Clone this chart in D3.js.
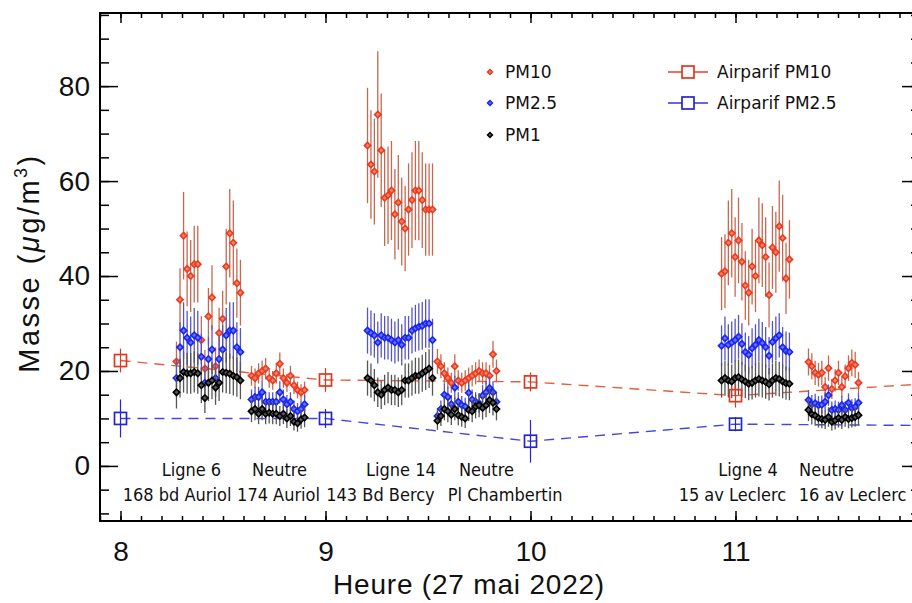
<!DOCTYPE html>
<html>
<head>
<meta charset="utf-8">
<script src="https://cdn.jsdelivr.net/npm/d3@7"></script>
<style>
  body { margin: 0; background: #fff; }
  svg { display: block; }
</style>
</head>
<body>
<script>
// sampling sites (two label lines each) and first / last sample time, decimal hours
const siteLine1 = ['Ligne 6', 'Neutre', 'Ligne 14', 'Neutre', 'Ligne 4', 'Neutre'];
const siteLine2 = ['168 bd Auriol', '174 Auriol', '143 Bd Bercy', 'Pl Chambertin', '15 av Leclerc', '16 av Leclerc'];
const siteStart = [8.273, 8.639, 9.205, 9.546, 10.932, 11.356];
const siteEnd   = [8.585, 8.898, 9.522, 9.834, 11.263, 11.600];

// measured mass concentrations (µg/m3), one row per site, one value per minute
const pm10 = [
  [22, 35, 48.5, 41.5, 40, 42.5, 42.5, 26.5, 20.5, 31.5, 35.5, 21, 28, 31, 42, 49, 47, 38.5, 36.5],
  [19, 18.5, 19.5, 20, 20.5, 18.5, 18, 19.5, 21.5, 18.5, 17.5, 19, 17, 16, 15.5, 16],
  [67.5, 63.5, 62, 74, 66.5, 56.5, 57, 58, 53, 55.5, 51.5, 50, 54, 56, 58, 58, 56, 54, 54, 54],
  [22, 21, 19.5, 18.5, 17.5, 21, 18, 17.5, 18, 18.5, 19, 19.5, 20, 19.5, 19.5, 19, 23.5, 20],
  [40.5, 41, 47, 49, 44, 47.5, 43, 38, 36.5, 42, 40, 47.5, 46.5, 44, 36, 46, 45, 50.5, 48, 39.5, 43.5],
  [21.9, 21, 19.6, 19.2, 19.6, 16.6, 20.6, 16.2, 18, 19.6, 16.6, 18.9, 20.6, 21.7, 21.3, 17.5]
];
const pm25 = [
  [18.5, 25, 28.5, 27, 26, 27.5, 27, 23, 17.5, 22.5, 24.5, 18.5, 22.5, 24.5, 27.5, 28.5, 28.5, 25, 24],
  [14, 14.5, 14.5, 15.5, 13.5, 13.5, 13.5, 13.5, 15.5, 14, 13, 13.5, 12, 11.5, 12, 13],
  [28.5, 28, 27.5, 26, 27.5, 27, 27, 26.5, 26, 26.5, 25.5, 27, 27, 28.5, 29, 29.3, 29.5, 30, 30, 26.5],
  [10.5, 12, 15, 14.5, 13, 16.5, 13.5, 12.8, 12.5, 15.4, 14, 13.5, 13.2, 14.8, 15.5, 16.4, 15.5, 13.5],
  [25.3, 26.9, 25.5, 26, 26.5, 27.2, 25.7, 24, 23.4, 24.8, 25.5, 26.5, 25.9, 25, 23.2, 26.1, 26.9, 27.5, 25, 24.2, 24],
  [13.9, 13, 13.2, 12.8, 12.9, 13.5, 14.9, 11.8, 12, 11.8, 12.8, 11.8, 13.3, 12.2, 12.4, 13.3]
];
const pm1 = [
  [15.5, 18.5, 19.8, 19.5, 19.5, 19.8, 19.5, 17, 14.3, 17.5, 18, 16.5, 17.5, 19.8, 19.6, 19.4, 19, 18.7, 18],
  [11.5, 12, 11, 12, 11, 11.2, 11, 11, 10.5, 11, 10, 10.5, 9.3, 9, 9.8, 10.2],
  [18.5, 18, 17, 15.5, 15, 16, 16.5, 16, 16, 15.5, 16, 18, 18, 18.5, 19, 19, 19.5, 20, 20.5, 18.5],
  [9.5, 10.5, 12, 11.5, 10.8, 12, 10.7, 10.3, 10, 11.8, 11.5, 12.5, 12.8, 12.2, 12.8, 13.9, 13.3, 12],
  [18, 18.5, 18, 17.8, 18.5, 18.7, 18.2, 17.8, 17.3, 17.5, 18, 18.3, 18, 17.7, 17.2, 18, 18.5, 18.3, 17.8, 17.4, 17.3],
  [11.8, 10.9, 10.6, 10.1, 9.9, 9.7, 10.3, 9.3, 9.6, 10.1, 9.7, 10.3, 9.9, 10.1, 10.3, 10.7]
];
// relative size of the error bars, per site
const relErr10 = [0.19, 0.11, 0.18, 0.12, 0.19, 0.13];
const relErr25 = [0.21, 0.15, 0.17, 0.15, 0.17, 0.15];
const relErr1  = [0.22, 0.2, 0.2, 0.2, 0.2, 0.2];

// Airparif hourly station values
const airHours = [8, 9, 10, 11, 12];
const airPM10 = [22.2, 18.1, 17.7, 14.8, 17.5];
const airPM10Err = [2.5, 2.5, 2, 2.5, 2.5];
const airPM25 = [10, 10, 5.2, 8.8, 8.5];
const airPM25Err = [4, 2, 4.5, 1.5, 2];

const hourTicks = [8, 9, 10, 11];
const massTicks = [0, 20, 40, 60, 80];

// label anchors (hours), layout only
const line1At = [8.346, 8.776, 9.368, 9.785, 11.061, 11.444];
const line2At = [8.276, 8.771, 9.268, 9.876, 10.985, 11.571];

const W = 912, H = 603;
const plotL = 100, plotR = 920, plotT = 13, plotB = 521;
const font = '"DejaVu Sans", sans-serif';
const axisFont = '"Liberation Sans", Arial, sans-serif';

const x = d3.scaleLinear().domain([7.9, 11.9]).range([plotL, plotR]);
const y = d3.scaleLinear().domain([-11.6, 95.4]).range([plotB, plotT]);

const svg = d3.select('body').append('svg')
  .attr('width', W).attr('height', H)
  .attr('font-family', font);

svg.append('rect').attr('width', W).attr('height', H).attr('fill', '#fff');

svg.append('clipPath').attr('id', 'clip')
  .append('rect')
  .attr('x', plotL).attr('y', plotT)
  .attr('width', plotR - plotL).attr('height', plotB - plotT);

const plot = svg.append('g').attr('clip-path', 'url(#clip)');

// Airparif dashed lines
const airSeries = [
  {values: airPM10, err: airPM10Err, color: '#e0371f', dash: '#e2603e'},
  {values: airPM25, err: airPM25Err, color: '#2525cf', dash: '#4848d6'}
];

airSeries.forEach((s) => {
  const line = d3.line()
    .x((d, i) => x(airHours[i]))
    .y((d) => y(d));
  plot.append('path')
    .datum(s.values)
    .attr('fill', 'none')
    .attr('stroke', s.dash)
    .attr('stroke-width', 1.4)
    .attr('stroke-dasharray', '10,7')
    .attr('d', line);
});

// measured series
const species = [
  {name: 'PM10', values: pm10, rel: relErr10, mark: '#ec3a1e', fill: '#f2806a', bar: '#c6684f'},
  {name: 'PM2.5', values: pm25, rel: relErr25, mark: '#1a24f0', fill: '#6470ff', bar: '#5656c0'},
  {name: 'PM1', values: pm1, rel: relErr1, mark: '#000', fill: '#555', bar: '#555'}
];

const diamond = d3.symbol(d3.symbolSquare, 20);

species.forEach((s) => {
  const pts = [];
  s.values.forEach((row, i) => {
    const step = (siteEnd[i] - siteStart[i]) / (row.length - 1);
    row.forEach((v, k) => pts.push({t: siteStart[i] + k * step, v: v, e: v * s.rel[i]}));
  });

  plot.append('g')
    .attr('stroke', s.bar)
    .attr('stroke-width', 1.3)
    .selectAll('line')
    .data(pts)
    .join('line')
    .attr('x1', (d) => x(d.t)).attr('x2', (d) => x(d.t))
    .attr('y1', (d) => y(d.v - d.e)).attr('y2', (d) => y(d.v + d.e));

  plot.append('g')
    .selectAll('path')
    .data(pts)
    .join('path')
    .attr('d', diamond)
    .attr('transform', (d) => `translate(${x(d.t)},${y(d.v)}) rotate(45)`)
    .attr('fill', s.fill)
    .attr('stroke', s.mark)
    .attr('stroke-width', 1.6);
});

// Airparif squares and error bars on top
airSeries.forEach((s) => {
  const g = plot.append('g').attr('stroke', s.color).attr('fill', 'none');
  g.selectAll('line')
    .data(s.values)
    .join('line')
    .attr('stroke-width', 1.2)
    .attr('x1', (d, i) => x(airHours[i])).attr('x2', (d, i) => x(airHours[i]))
    .attr('y1', (d, i) => y(d - s.err[i])).attr('y2', (d, i) => y(d + s.err[i]));
  g.selectAll('rect')
    .data(s.values)
    .join('rect')
    .attr('stroke-width', 1.7)
    .attr('x', (d, i) => x(airHours[i]) - 6)
    .attr('y', (d) => y(d) - 6)
    .attr('width', 12).attr('height', 12);
});

// axes, IDL style: ticks inside on all four sides
function styleAxis(g) {
  g.select('.domain').remove();
  g.selectAll('.tick line').attr('stroke', '#000').attr('stroke-width', 1.5);
  g.selectAll('.tick text')
    .attr('font-family', axisFont)
    .attr('font-size', 28)
    .attr('fill', '#111');
}

const minorHours = d3.range(79, 120).map((d) => d / 10);
const minorMass = d3.range(-10, 96, 5);

svg.append('g').attr('transform', `translate(0,${plotB})`)
  .call(d3.axisBottom(x).tickValues(minorHours).tickSize(-5).tickFormat(''))
  .call(styleAxis);
svg.append('g').attr('transform', `translate(0,${plotB})`)
  .call(d3.axisBottom(x).tickValues(hourTicks).tickSize(-10).tickPadding(20).tickFormat(d3.format('d')))
  .call(styleAxis);
svg.append('g').attr('transform', `translate(0,${plotT})`)
  .call(d3.axisTop(x).tickValues(minorHours).tickSize(-5).tickFormat(''))
  .call(styleAxis);
svg.append('g').attr('transform', `translate(0,${plotT})`)
  .call(d3.axisTop(x).tickValues(hourTicks).tickSize(-10).tickFormat(''))
  .call(styleAxis);

svg.append('g').attr('transform', `translate(${plotL},0)`)
  .call(d3.axisLeft(y).tickValues(minorMass).tickSize(-9).tickFormat(''))
  .call(styleAxis);
svg.append('g').attr('transform', `translate(${plotL},0)`)
  .call(d3.axisLeft(y).tickValues(massTicks).tickSize(-18).tickPadding(10).tickFormat(d3.format('d')))
  .call(styleAxis);
svg.append('g').attr('transform', `translate(${plotR},0)`)
  .call(d3.axisRight(y).tickValues(minorMass).tickSize(-9).tickFormat(''))
  .call(styleAxis);
svg.append('g').attr('transform', `translate(${plotR},0)`)
  .call(d3.axisRight(y).tickValues(massTicks).tickSize(-18).tickFormat(''))
  .call(styleAxis);

svg.append('rect')
  .attr('x', plotL).attr('y', plotT)
  .attr('width', plotR - plotL).attr('height', plotB - plotT)
  .attr('fill', 'none')
  .attr('stroke', '#000')
  .attr('stroke-width', 2);

// site labels
const labelFont = '"DejaVu Sans Condensed", "DejaVu Sans", sans-serif';
const labels = svg.append('g')
  .attr('font-family', labelFont)
  .attr('font-stretch', 'condensed')
  .attr('font-size', 18)
  .attr('fill', '#111')
  .attr('text-anchor', 'middle');
labels.selectAll('text.l1')
  .data(siteLine1)
  .join('text')
  .attr('class', 'l1')
  .attr('x', (d, i) => x(line1At[i]))
  .attr('y', 476)
  .text((d) => d);
labels.selectAll('text.l2')
  .data(siteLine2)
  .join('text')
  .attr('class', 'l2')
  .attr('x', (d, i) => x(line2At[i]))
  .attr('y', 501)
  .text((d) => d);

// axis titles
svg.append('text')
  .attr('x', 469)
  .attr('y', 594)
  .attr('text-anchor', 'middle')
  .attr('font-family', axisFont)
  .attr('font-size', 28)
  .attr('letter-spacing', 0.8)
  .attr('fill', '#111')
  .text('Heure (27 mai 2022)');

const yt = svg.append('text')
  .attr('transform', 'translate(39,263) rotate(-90)')
  .attr('text-anchor', 'middle')
  .attr('font-family', axisFont)
  .attr('font-size', 29)
  .attr('letter-spacing', 2.5)
  .attr('fill', '#111');
yt.append('tspan').text('Masse (');
yt.append('tspan').attr('font-style', 'italic').text('μ');
yt.append('tspan').text('g/m');
yt.append('tspan').attr('font-size', 18).attr('dy', -12).text('3');
yt.append('tspan').attr('dy', 12).text(')');

// legend
const legend = svg.append('g').attr('font-size', 17).attr('fill', '#111');
const legendRows = [72, 103, 135];
species.forEach((s, i) => {
  legend.append('path')
    .attr('d', d3.symbol(d3.symbolSquare, 12))
    .attr('transform', `translate(490,${legendRows[i]}) rotate(45)`)
    .attr('fill', s.fill)
    .attr('stroke', s.mark)
    .attr('stroke-width', 1.5);
  legend.append('text')
    .attr('x', 505).attr('y', legendRows[i] + 6)
    .text(s.name);
});
const airNames = ['Airparif PM10', 'Airparif PM2.5'];
airSeries.forEach((s, i) => {
  const cy = legendRows[i];
  legend.append('line')
    .attr('x1', 668).attr('x2', 682).attr('y1', cy).attr('y2', cy)
    .attr('stroke', s.color).attr('stroke-width', 1.4);
  legend.append('line')
    .attr('x1', 694).attr('x2', 708).attr('y1', cy).attr('y2', cy)
    .attr('stroke', s.color).attr('stroke-width', 1.4);
  legend.append('rect')
    .attr('x', 682).attr('y', cy - 6).attr('width', 12).attr('height', 12)
    .attr('fill', 'none').attr('stroke', s.color).attr('stroke-width', 1.7);
  legend.append('text')
    .attr('x', 717).attr('y', cy + 6)
    .text(airNames[i]);
});
</script>
</body>
</html>
